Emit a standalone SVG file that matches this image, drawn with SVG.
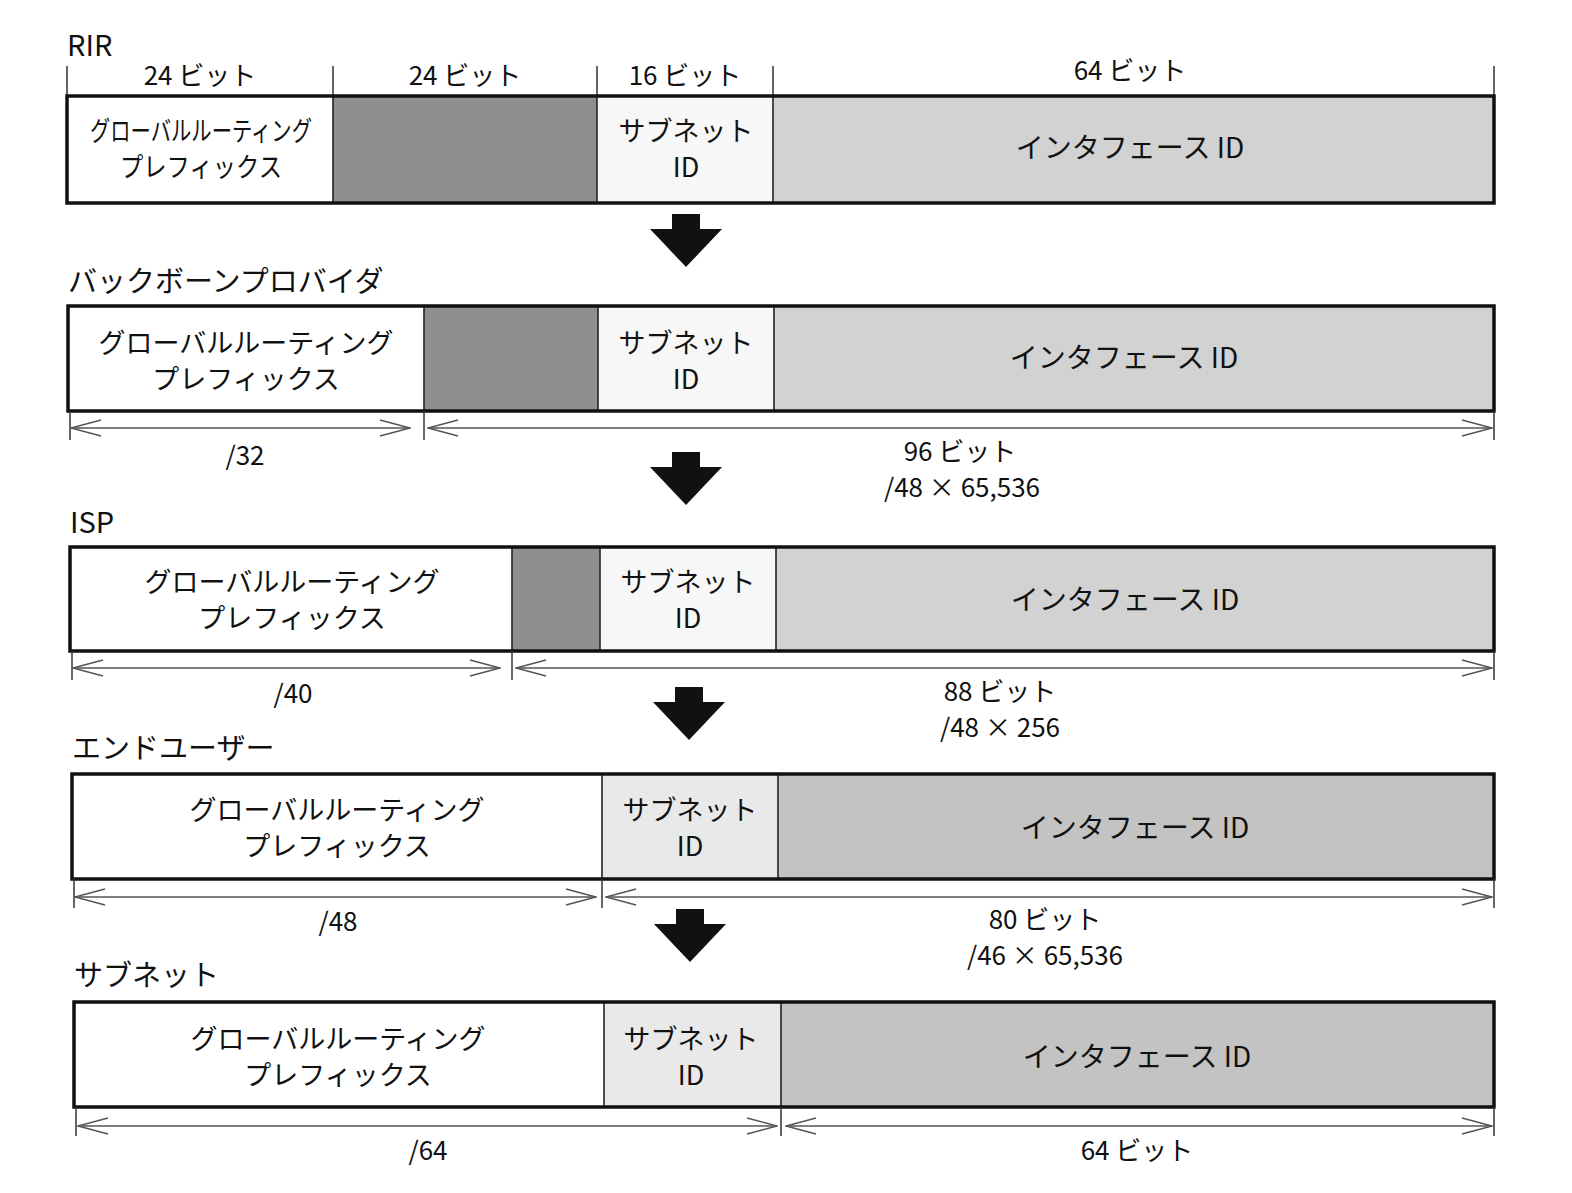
<svg xmlns="http://www.w3.org/2000/svg" width="1572" height="1193" viewBox="0 0 1572 1193">
<defs>
<style>
text{font-family:"Noto Sans CJK JP","Noto Sans",sans-serif;fill:#111;}
.t{font-size:29px;}
.c{font-size:28px;text-anchor:middle;}
.c2{font-size:27px;text-anchor:middle;}
.l{font-size:26px;text-anchor:middle;}
.box{fill:none;stroke:#111;stroke-width:3.5;}
.div{stroke:#222;stroke-width:1.6;}
.tick{stroke:#333;stroke-width:1.5;}
.dim{stroke:#555;stroke-width:1.6;fill:none;}
.w{fill:#ffffff;}
.dk{fill:#8f8f8f;}
.sb{fill:#f7f7f7;}
.sb2{fill:#e9e9e9;}
.if{fill:#d2d2d2;}
.if2{fill:#c3c3c3;}
.arr{fill:#111;}
</style>
<marker id="ah" viewBox="0 0 32 20" markerWidth="32" markerHeight="20" refX="31" refY="10" orient="auto-start-reverse" markerUnits="userSpaceOnUse">
<path d="M1 2 L31 10 L1 18" fill="none" stroke="#555" stroke-width="1.6"/>
</marker>
</defs>

<!-- Row 1: RIR -->
<g id="rir">
<text class="t" x="67" y="56">RIR</text>
<line class="tick" x1="67" y1="66" x2="67" y2="96"/>
<line class="tick" x1="333" y1="66" x2="333" y2="96"/>
<line class="tick" x1="597" y1="66" x2="597" y2="96"/>
<line class="tick" x1="773" y1="66" x2="773" y2="96"/>
<line class="tick" x1="1494" y1="66" x2="1494" y2="96"/>
<text class="l" x="200" y="85">24 ビット</text>
<text class="l" x="465" y="85">24 ビット</text>
<text class="l" x="685" y="85">16 ビット</text>
<text class="l" x="1130" y="80">64 ビット</text>
<rect class="w" x="67" y="96" width="266" height="107"/>
<rect class="dk" x="333" y="96" width="264" height="107"/>
<rect class="sb" x="597" y="96" width="176" height="107"/>
<rect class="if" x="773" y="96" width="721" height="107"/>
<line class="div" x1="333" y1="96" x2="333" y2="203"/>
<line class="div" x1="597" y1="96" x2="597" y2="203"/>
<line class="div" x1="773" y1="96" x2="773" y2="203"/>
<rect class="box" x="67" y="96" width="1427" height="107"/>
<text class="c2"><tspan x="201" y="141" textLength="222" lengthAdjust="spacingAndGlyphs">グローバルルーティング</tspan><tspan x="201" y="177" textLength="162" lengthAdjust="spacingAndGlyphs">プレフィックス</tspan></text>
<text class="c2"><tspan x="686" y="141">サブネット</tspan><tspan x="686" y="177">ID</tspan></text>
<text class="c" x="1130" y="158">インタフェース ID</text>
</g>

<!-- Row 2: Backbone provider -->
<g id="backbone">
<text class="t" x="68" y="292">バックボーンプロバイダ</text>
<rect class="w" x="68" y="306" width="356" height="105"/>
<rect class="dk" x="424" y="306" width="174" height="105"/>
<rect class="sb" x="598" y="306" width="176" height="105"/>
<rect class="if" x="774" y="306" width="720" height="105"/>
<line class="div" x1="424" y1="306" x2="424" y2="411"/>
<line class="div" x1="598" y1="306" x2="598" y2="411"/>
<line class="div" x1="774" y1="306" x2="774" y2="411"/>
<rect class="box" x="68" y="306" width="1426" height="105"/>
<text class="c2"><tspan x="246" y="353">グローバルルーティング</tspan><tspan x="246" y="389">プレフィックス</tspan></text>
<text class="c2"><tspan x="686" y="353">サブネット</tspan><tspan x="686" y="389">ID</tspan></text>
<text class="c" x="1124" y="368">インタフェース ID</text>
</g>

<!-- Row 3: ISP -->
<g id="isp">
<text class="t" x="70" y="533">ISP</text>
<rect class="w" x="70" y="547" width="442" height="104"/>
<rect class="dk" x="512" y="547" width="88" height="104"/>
<rect class="sb" x="600" y="547" width="176" height="104"/>
<rect class="if" x="776" y="547" width="718" height="104"/>
<line class="div" x1="512" y1="547" x2="512" y2="651"/>
<line class="div" x1="600" y1="547" x2="600" y2="651"/>
<line class="div" x1="776" y1="547" x2="776" y2="651"/>
<rect class="box" x="70" y="547" width="1424" height="104"/>
<text class="c2"><tspan x="292" y="592">グローバルルーティング</tspan><tspan x="292" y="628">プレフィックス</tspan></text>
<text class="c2"><tspan x="688" y="592">サブネット</tspan><tspan x="688" y="628">ID</tspan></text>
<text class="c" x="1125" y="610">インタフェース ID</text>
</g>

<!-- Row 4: End user -->
<g id="enduser">
<text class="t" x="72" y="759">エンドユーザー</text>
<rect class="w" x="72" y="774" width="530" height="105"/>
<rect class="sb2" x="602" y="774" width="176" height="105"/>
<rect class="if2" x="778" y="774" width="716" height="105"/>
<line class="div" x1="602" y1="774" x2="602" y2="879"/>
<line class="div" x1="778" y1="774" x2="778" y2="879"/>
<rect class="box" x="72" y="774" width="1422" height="105"/>
<text class="c2"><tspan x="337" y="820">グローバルルーティング</tspan><tspan x="337" y="856">プレフィックス</tspan></text>
<text class="c2"><tspan x="690" y="820">サブネット</tspan><tspan x="690" y="856">ID</tspan></text>
<text class="c" x="1135" y="838">インタフェース ID</text>
</g>

<!-- Row 5: Subnet -->
<g id="subnet">
<text class="t" x="74" y="986">サブネット</text>
<rect class="w" x="74" y="1002" width="530" height="105"/>
<rect class="sb2" x="604" y="1002" width="177" height="105"/>
<rect class="if2" x="781" y="1002" width="713" height="105"/>
<line class="div" x1="604" y1="1002" x2="604" y2="1107"/>
<line class="div" x1="781" y1="1002" x2="781" y2="1107"/>
<rect class="box" x="74" y="1002" width="1420" height="105"/>
<text class="c2"><tspan x="338" y="1049">グローバルルーティング</tspan><tspan x="338" y="1085">プレフィックス</tspan></text>
<text class="c2"><tspan x="691" y="1049">サブネット</tspan><tspan x="691" y="1085">ID</tspan></text>
<text class="c" x="1137" y="1067">インタフェース ID</text>
</g>

<!-- Connectors: down arrows and dimension lines -->
<g id="connectors">
<path class="arr" d="M672 214 H700 V229 H722 L686 267 L650 229 H672 Z"/>
<path class="arr" d="M672 452 H700 V467 H722 L686 505 L650 467 H672 Z"/>
<path class="arr" d="M675 687 H703 V702 H725 L689 740 L653 702 H675 Z"/>
<path class="arr" d="M676 909 H704 V924 H726 L690 962 L654 924 H676 Z"/>

<line class="tick" x1="70" y1="411" x2="70" y2="440"/>
<line class="tick" x1="424" y1="411" x2="424" y2="440"/>
<line class="tick" x1="1494" y1="411" x2="1494" y2="440"/>
<line class="dim" x1="71" y1="428" x2="410" y2="428" marker-start="url(#ah)" marker-end="url(#ah)"/>
<line class="dim" x1="428" y1="428" x2="1492" y2="428" marker-start="url(#ah)" marker-end="url(#ah)"/>
<text class="l" x="245" y="465">/32</text>
<text class="l"><tspan x="960" y="461">96 ビット</tspan><tspan x="962" y="497">/48 × 65,536</tspan></text>

<line class="tick" x1="72" y1="651" x2="72" y2="680"/>
<line class="tick" x1="512" y1="651" x2="512" y2="680"/>
<line class="tick" x1="1494" y1="651" x2="1494" y2="680"/>
<line class="dim" x1="73" y1="668" x2="500" y2="668" marker-start="url(#ah)" marker-end="url(#ah)"/>
<line class="dim" x1="516" y1="668" x2="1492" y2="668" marker-start="url(#ah)" marker-end="url(#ah)"/>
<text class="l" x="293" y="703">/40</text>
<text class="l"><tspan x="1000" y="701">88 ビット</tspan><tspan x="1000" y="737">/48 × 256</tspan></text>

<line class="tick" x1="74" y1="879" x2="74" y2="908"/>
<line class="tick" x1="602" y1="879" x2="602" y2="908"/>
<line class="tick" x1="1494" y1="879" x2="1494" y2="908"/>
<line class="dim" x1="75" y1="897" x2="596" y2="897" marker-start="url(#ah)" marker-end="url(#ah)"/>
<line class="dim" x1="606" y1="897" x2="1492" y2="897" marker-start="url(#ah)" marker-end="url(#ah)"/>
<text class="l" x="338" y="931">/48</text>
<text class="l"><tspan x="1045" y="929">80 ビット</tspan><tspan x="1045" y="965">/46 × 65,536</tspan></text>

<line class="tick" x1="76" y1="1107" x2="76" y2="1136"/>
<line class="tick" x1="781" y1="1107" x2="781" y2="1136"/>
<line class="tick" x1="1494" y1="1107" x2="1494" y2="1136"/>
<line class="dim" x1="78" y1="1126" x2="777" y2="1126" marker-start="url(#ah)" marker-end="url(#ah)"/>
<line class="dim" x1="786" y1="1126" x2="1492" y2="1126" marker-start="url(#ah)" marker-end="url(#ah)"/>
<text class="l" x="428" y="1160">/64</text>
<text class="l" x="1137" y="1160">64 ビット</text>
</g>
</svg>
